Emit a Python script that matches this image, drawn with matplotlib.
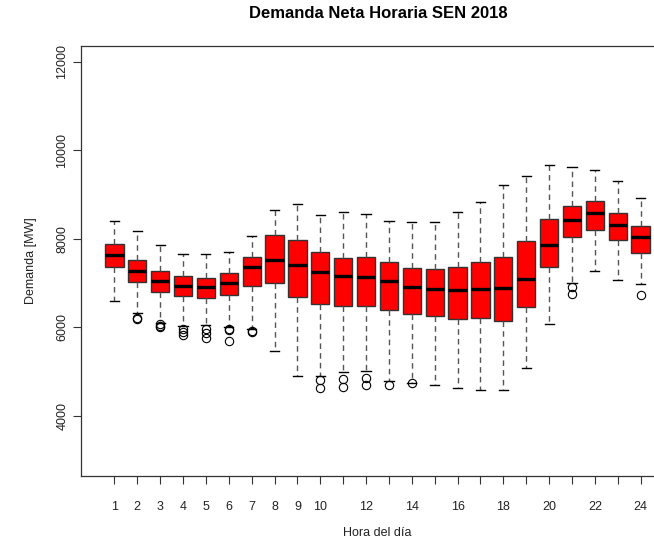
import numpy as np
import matplotlib
matplotlib.use("Agg")
import matplotlib.pyplot as plt

plt.rcParams['font.family'] = ['Liberation Sans', 'DejaVu Sans']

# Resumen por hora: bigote inferior, Q1, mediana, Q3, bigote superior [MW]
horas = list(range(1, 25))
whislo = [6590, 6320, 6100, 6030, 6050, 6010, 5950, 5460, 4910, 4890, 4990, 5010,
          4780, 4740, 4700, 4620, 4590, 4590, 5090, 6080, 7000, 7280, 7060, 6970]
q1 = [7360, 7030, 6790, 6700, 6660, 6720, 6930, 6990, 6690, 6520, 6490, 6490,
      6390, 6290, 6260, 6180, 6220, 6140, 6460, 7370, 8030, 8190, 7960, 7680]
med = [7640, 7280, 7050, 6930, 6900, 6990, 7360, 7530, 7400, 7250, 7160, 7140,
       7050, 6900, 6870, 6840, 6860, 6880, 7090, 7860, 8420, 8570, 8320, 8050]
q3 = [7890, 7520, 7260, 7160, 7120, 7220, 7590, 8080, 7980, 7710, 7560, 7590,
      7470, 7340, 7310, 7350, 7470, 7590, 7940, 8450, 8740, 8850, 8590, 8280]
whishi = [8410, 8180, 7860, 7660, 7660, 7710, 8070, 8640, 8790, 8530, 8600, 8560,
          8410, 8380, 8380, 8600, 8840, 9220, 9420, 9670, 9620, 9550, 9300, 8910]
fliers = [[], [6220, 6180], [6080, 6000, 6030], [5970, 5900, 5830],
          [5950, 5870, 5760], [5960, 5940, 5680], [5920, 5890], [], [],
          [4800, 4620], [4820, 4640], [4860, 4690], [4700], [4730], [], [], [],
          [], [], [], [6900, 6740], [], [], [6730]]

stats = []
for i in range(len(horas)):
    stats.append(dict(whislo=whislo[i], q1=q1[i], med=med[i], q3=q3[i],
                      whishi=whishi[i], fliers=fliers[i], label=str(horas[i])))

fig = plt.figure(figsize=(6.54, 5.45), dpi=100)
W, H = 654, 545
ax = fig.add_axes([81 / W, (H - 476) / H, (674 - 81) / W, (476 - 45.7) / H])

ax.bxp(stats, positions=horas, widths=0.8, capwidths=0.4, patch_artist=True,
       boxprops=dict(facecolor='red', edgecolor='#333333', linewidth=1),
       medianprops=dict(color='black', linewidth=2.4),
       whiskerprops=dict(color='#555555', linestyle=(0, (4, 3)), linewidth=1),
       capprops=dict(color='black', linewidth=1),
       flierprops=dict(marker='o', markerfacecolor='none', markeredgecolor='black',
                       markersize=6, markeredgewidth=0.8))

ax.set_xlim(-0.46, 25.46)
ax.set_ylim(2640, 12360)

ax.set_xticks(horas)
ax.set_xticklabels([str(h) if (h <= 10 or h % 2 == 0) else '' for h in horas])
ax.set_yticks([4000, 6000, 8000, 10000, 12000])
ax.set_yticklabels(['4000', '6000', '8000', '10000', '12000'], rotation=90, va='center')
ax.tick_params(axis='both', length=6, width=0.8, colors='#333333', labelsize=9,
               labelcolor='#222222')
ax.tick_params(axis='x', pad=12)
ax.tick_params(axis='y', pad=3)

for s in ax.spines.values():
    s.set_color('#333333')
    s.set_linewidth(0.9)

ax.set_xlabel('Hora del día', fontsize=9, color='#222222', labelpad=10)
ax.set_ylabel('Demanda [MW]', fontsize=9, color='#222222', labelpad=14)
fig.text(378 / W, 1 - 13 / H, 'Demanda Neta Horaria SEN 2018', ha='center',
         va='center', fontsize=12, fontweight='bold')

fig.savefig('out.png', dpi=100)
